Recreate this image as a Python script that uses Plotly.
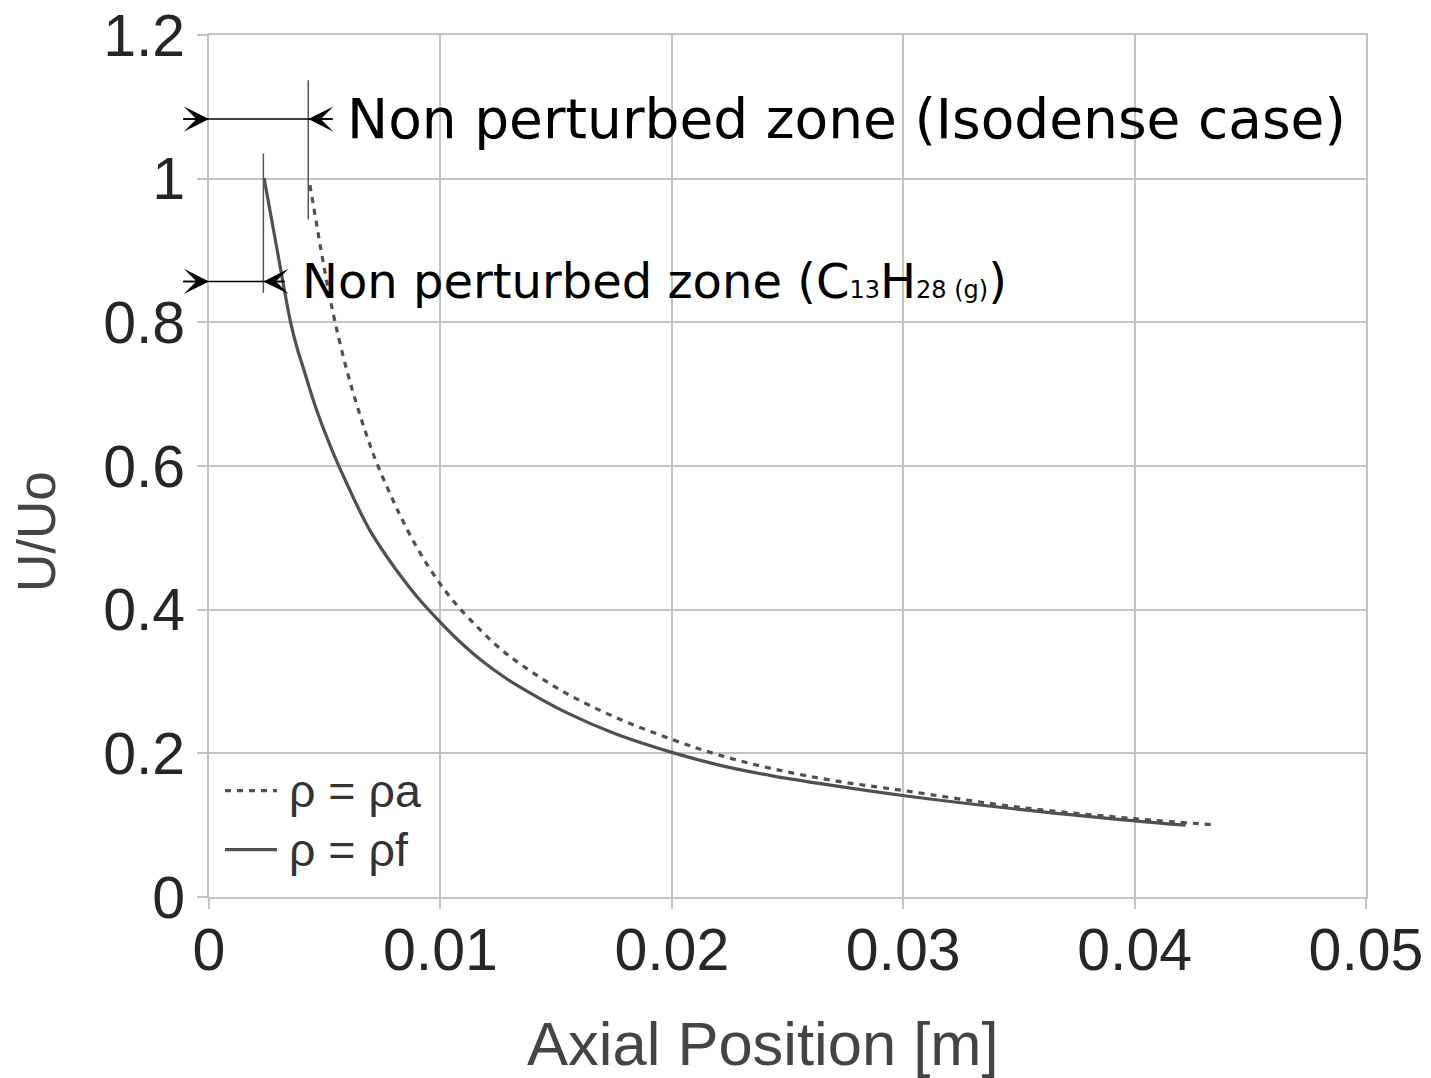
import plotly.graph_objects as go

# ---- data ----
x_rho_a = [0.00436, 0.00458, 0.00480, 0.00510, 0.00545, 0.00595, 0.00638, 0.00681, 0.00725,
           0.00797, 0.00840, 0.00905, 0.00977, 0.01056, 0.01150, 0.01243, 0.01351, 0.01536,
           0.01750, 0.02004, 0.02200, 0.02429, 0.02700, 0.03005, 0.03500, 0.04000, 0.04345]
u_rho_a = [0.991, 0.950, 0.908, 0.855, 0.800, 0.734, 0.686, 0.643, 0.604,
           0.551, 0.522, 0.483, 0.446, 0.412, 0.379, 0.350, 0.323, 0.285,
           0.251, 0.219, 0.198, 0.179, 0.162, 0.148, 0.125, 0.109, 0.1005]

x_rho_f = [0.00238, 0.00295, 0.00352, 0.00380, 0.00410, 0.00465, 0.00537, 0.00595, 0.00640,
           0.00696, 0.00768, 0.00840, 0.00912, 0.00998, 0.01085, 0.01171, 0.01272, 0.01350,
           0.01536, 0.01750, 0.02004, 0.02200, 0.02429, 0.02700, 0.03005, 0.03500, 0.04000,
           0.04220]
u_rho_f = [1.001, 0.900, 0.801, 0.765, 0.734, 0.678, 0.618, 0.576, 0.545,
           0.510, 0.474, 0.442, 0.413, 0.383, 0.355, 0.331, 0.307, 0.291,
           0.258, 0.228, 0.201, 0.184, 0.169, 0.155, 0.141, 0.122, 0.106,
           0.100]

x_ticks = [0, 0.01, 0.02, 0.03, 0.04, 0.05]
x_tick_text = ["0", "0.01", "0.02", "0.03", "0.04", "0.05"]
y_ticks = [0, 0.2, 0.4, 0.6, 0.8, 1.0, 1.2]
y_tick_text = ["0", "0.2", "0.4", "0.6", "0.8", "1", "1.2"]

series_names = ["\u03c1 = \u03c1a", "\u03c1 = \u03c1f"]
x_title = "Axial Position [m]"
y_title = "U/Uo"

# zone markers (dimension lines)
zone_iso_x = 0.00429
zone_iso_y = 1.083
zone_iso_vline = (0.943, 1.137)
zone_c13_x = 0.00235
zone_c13_y = 0.857
zone_c13_vline = (0.841, 1.035)
arrow_tail_left = -0.00118

GRID = "#c4c4c4"
CURVE = "#505050"
SANS = "Liberation Sans, Arial, sans-serif"
TICKFONT = dict(family=SANS, size=59, color="#262626")

fig = go.Figure()
fig.add_trace(go.Scatter(x=x_rho_a, y=u_rho_a, mode="lines", name=series_names[0],
                         showlegend=False,
                         line=dict(color=CURVE, width=3.2, dash="6px,6px", shape="spline", smoothing=1.0)))
fig.add_trace(go.Scatter(x=x_rho_f, y=u_rho_f, mode="lines", name=series_names[1],
                         showlegend=False,
                         line=dict(color=CURVE, width=3.2, shape="spline", smoothing=1.0)))

# vertical marker lines
for xv, (y0, y1) in [(zone_iso_x, zone_iso_vline), (zone_c13_x, zone_c13_vline)]:
    fig.add_shape(type="line", xref="x", yref="y", x0=xv, x1=xv, y0=y0, y1=y1,
                  line=dict(color="#555555", width=1.5))

annotations = []
def dim_arrow(xhead_right, yv, right_tail):
    annotations.append(dict(x=right_tail, y=yv, ax=arrow_tail_left, ay=yv, xref="x", yref="y",
                            axref="x", ayref="y", text="", showarrow=True, arrowhead=0,
                            arrowwidth=1.5, arrowcolor="black"))
    annotations.append(dict(x=0, y=yv, ax=arrow_tail_left, ay=yv, xref="x", yref="y",
                            axref="x", ayref="y", text="", showarrow=True, arrowhead=3,
                            arrowsize=2.8, arrowwidth=1.5, arrowcolor="black"))
    annotations.append(dict(x=xhead_right, y=yv, ax=right_tail, ay=yv, xref="x", yref="y",
                            axref="x", ayref="y", text="", showarrow=True, arrowhead=3,
                            arrowsize=2.8, arrowwidth=1.5, arrowcolor="black"))

dim_arrow(zone_iso_x, zone_iso_y, 0.00536)
dim_arrow(zone_c13_x, zone_c13_y, 0.00328)

annotations.append(dict(x=0.00586, y=zone_iso_y, xref="x", yref="y", xanchor="left", yanchor="middle",
                        text="Non perturbed zone (Isodense case)", showarrow=False,
                        font=dict(family="DejaVu Sans", size=55, color="black")))
annotations.append(dict(x=0.00393, y=zone_c13_y, xref="x", yref="y", xanchor="left", yanchor="middle",
                        text="Non perturbed zone (C<span style=\"font-size:24px\">13</span>H"
                             "<span style=\"font-size:24px\">28 (g)</span>)",
                        showarrow=False,
                        font=dict(family="DejaVu Sans", size=48, color="black")))

# legend drawn inside the plot (samples + labels)
legend_y = [0.148, 0.066]
legend_dash = ["6px,6px", "solid"]
for name, ly, dsh in zip(series_names, legend_y, legend_dash):
    fig.add_shape(type="line", xref="x", yref="y", x0=0.00069, x1=0.00294, y0=ly, y1=ly,
                  line=dict(color=CURVE, width=3.2, dash=dsh))
    annotations.append(dict(x=0.00337, y=ly, xref="x", yref="y", xanchor="left", yanchor="middle",
                            text=name, showarrow=False,
                            font=dict(family=SANS, size=46.5, color="#333333")))

# axis titles
annotations.append(dict(x=0.4788, y=-0.1694, xref="paper", yref="paper", xanchor="center",
                        yanchor="middle", text=x_title, showarrow=False,
                        font=dict(family=SANS, size=61.5, color="#444444")))
annotations.append(dict(x=-0.1487, y=0.4246, xref="paper", yref="paper", xanchor="center",
                        yanchor="middle", text=y_title, showarrow=False, textangle=-90,
                        font=dict(family=SANS, size=53, color="#444444")))

fig.update_layout(
    width=1431, height=1078,
    margin=dict(l=209, r=65, t=35, b=181),
    paper_bgcolor="white", plot_bgcolor="white",
    annotations=annotations,
    showlegend=False,
)
fig.update_xaxes(range=[0, 0.05], tickvals=x_ticks, ticktext=x_tick_text, automargin=False,
                 showgrid=True, gridcolor=GRID, gridwidth=2, zeroline=False,
                 showline=True, linecolor=GRID, linewidth=2, mirror=True,
                 ticks="outside", ticklen=10, tickcolor=GRID, tickwidth=2,
                 tickfont=TICKFONT, ticklabelstandoff=-10)
fig.update_yaxes(range=[0, 1.2], tickvals=y_ticks, ticktext=y_tick_text, automargin=False,
                 showgrid=True, gridcolor=GRID, gridwidth=2, zeroline=False,
                 showline=True, linecolor=GRID, linewidth=2, mirror=True,
                 ticks="outside", ticklen=10, tickcolor=GRID, tickwidth=2,
                 tickfont=TICKFONT)

fig.write_html("out.html")
